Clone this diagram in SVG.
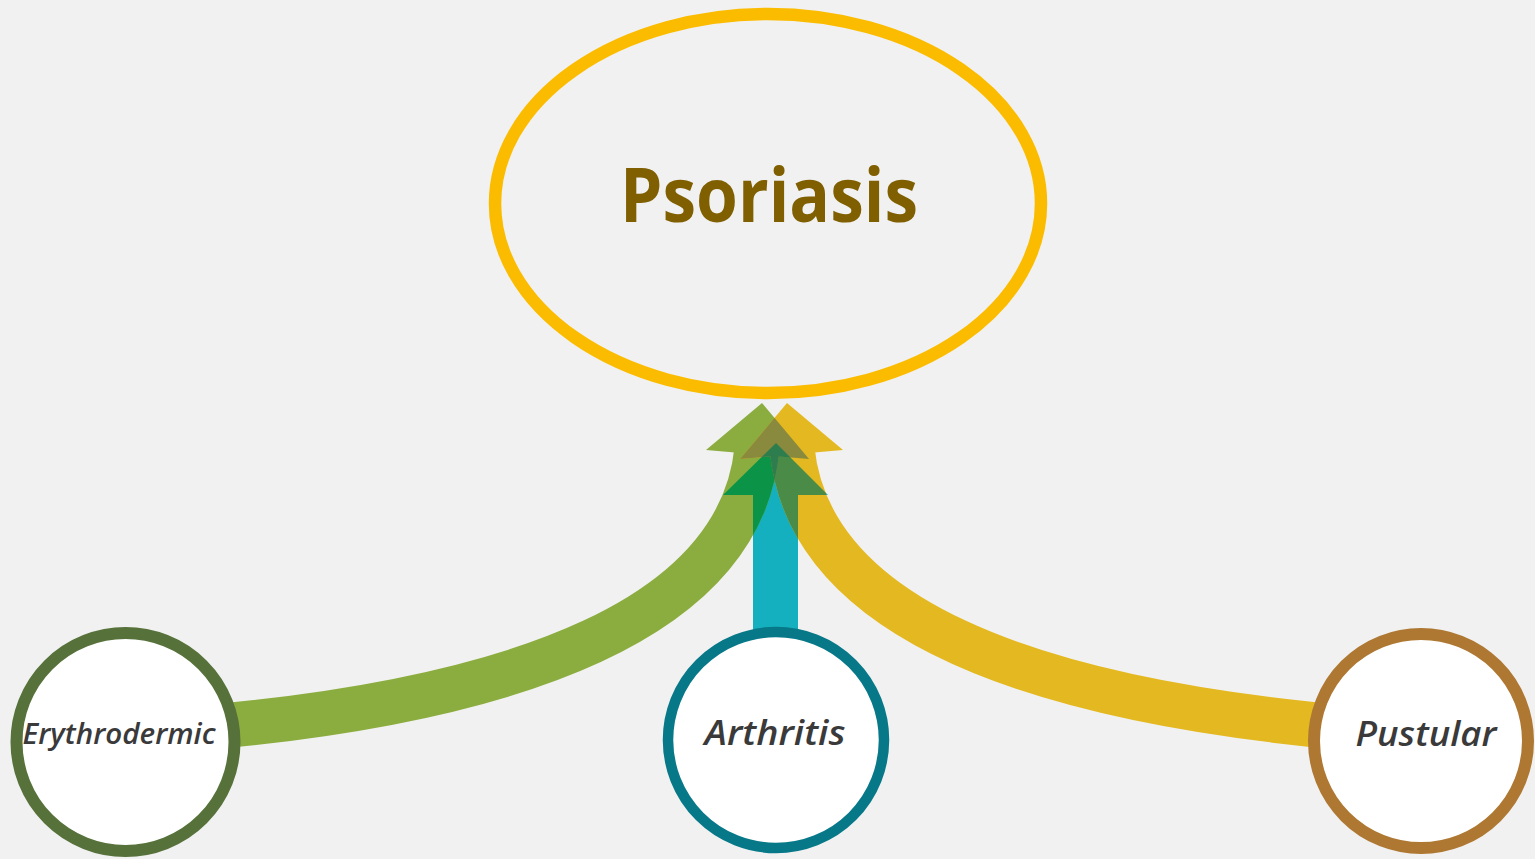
<svg xmlns="http://www.w3.org/2000/svg" xmlns:xlink="http://www.w3.org/1999/xlink" width="1535" height="859" viewBox="0 0 1535 859">
<style>
.bg{fill:#F1F1F1}
.node{fill:#FFFFFF}
.lbl{font-family:"Open Sans","Noto Sans","Liberation Sans",sans-serif;font-style:italic;font-weight:600;fill:#3A3A3A;text-anchor:middle}
.title{font-family:"Open Sans","Noto Sans","Liberation Sans",sans-serif;font-weight:700;fill:#7F5F00;text-anchor:middle}
</style>
<defs>
  <g id="gA">
    <path d="M200 728 C520 700 741 618 757 448" fill="none" stroke="currentColor" stroke-width="45"/>
    <polygon points="706,450 762,403 809,459" fill="currentColor"/>
  </g>
  <g id="yA">
    <path d="M1349 728 C1029 700 808 618 792 448" fill="none" stroke="currentColor" stroke-width="45"/>
    <polygon points="843,450 787,403 740,459" fill="currentColor"/>
  </g>
  <g id="tA">
    <path d="M775.5 650 V490" fill="none" stroke="currentColor" stroke-width="45"/>
    <polygon points="723,495 776,443 828,495" fill="currentColor"/>
  </g>
  <mask id="mT" maskUnits="userSpaceOnUse" x="0" y="0" width="1535" height="859">
    <use xlink:href="#tA" color="#FFFFFF"/>
  </mask>
  <mask id="mY" maskUnits="userSpaceOnUse" x="0" y="0" width="1535" height="859">
    <use xlink:href="#yA" color="#FFFFFF"/>
  </mask>
</defs>
<rect class="bg" x="0" y="0" width="1535" height="859"/>

<g id="connectors">
  <use xlink:href="#tA" color="#15B0BF"/>
  <use xlink:href="#gA" color="#8BAD3F"/>
  <use xlink:href="#yA" color="#E4B820"/>
  <use xlink:href="#gA" color="#0B9447" mask="url(#mT)"/>
  <use xlink:href="#yA" color="#4A8C47" mask="url(#mT)"/>
  <use xlink:href="#gA" color="#898A3D" mask="url(#mY)"/>
  <g mask="url(#mT)">
    <use xlink:href="#gA" color="#2E7D4E" mask="url(#mY)"/>
  </g>
</g>

<g id="psoriasis">
  <ellipse cx="768" cy="203.5" rx="273" ry="189.5" fill="none" stroke="#FBBC00" stroke-width="12.5"/>
  <text class="title" x="769" y="222" font-size="75" textLength="298" lengthAdjust="spacingAndGlyphs">Psoriasis</text>
</g>

<g id="erythrodermic">
  <circle class="node" cx="125.5" cy="742" r="109" stroke="#56723A" stroke-width="12"/>
  <text class="lbl" x="119" y="744" font-size="29" textLength="193" lengthAdjust="spacingAndGlyphs">Erythrodermic</text>
</g>

<g id="arthritis">
  <circle class="node" cx="776" cy="740" r="108" stroke="#077888" stroke-width="10.5"/>
  <text class="lbl" x="775" y="745" font-size="34" textLength="141" lengthAdjust="spacingAndGlyphs">Arthritis</text>
</g>

<g id="pustular">
  <circle class="node" cx="1421" cy="741" r="107" stroke="#AE7832" stroke-width="12"/>
  <text class="lbl" x="1426" y="746" font-size="34" textLength="141" lengthAdjust="spacingAndGlyphs">Pustular</text>
</g>
</svg>
